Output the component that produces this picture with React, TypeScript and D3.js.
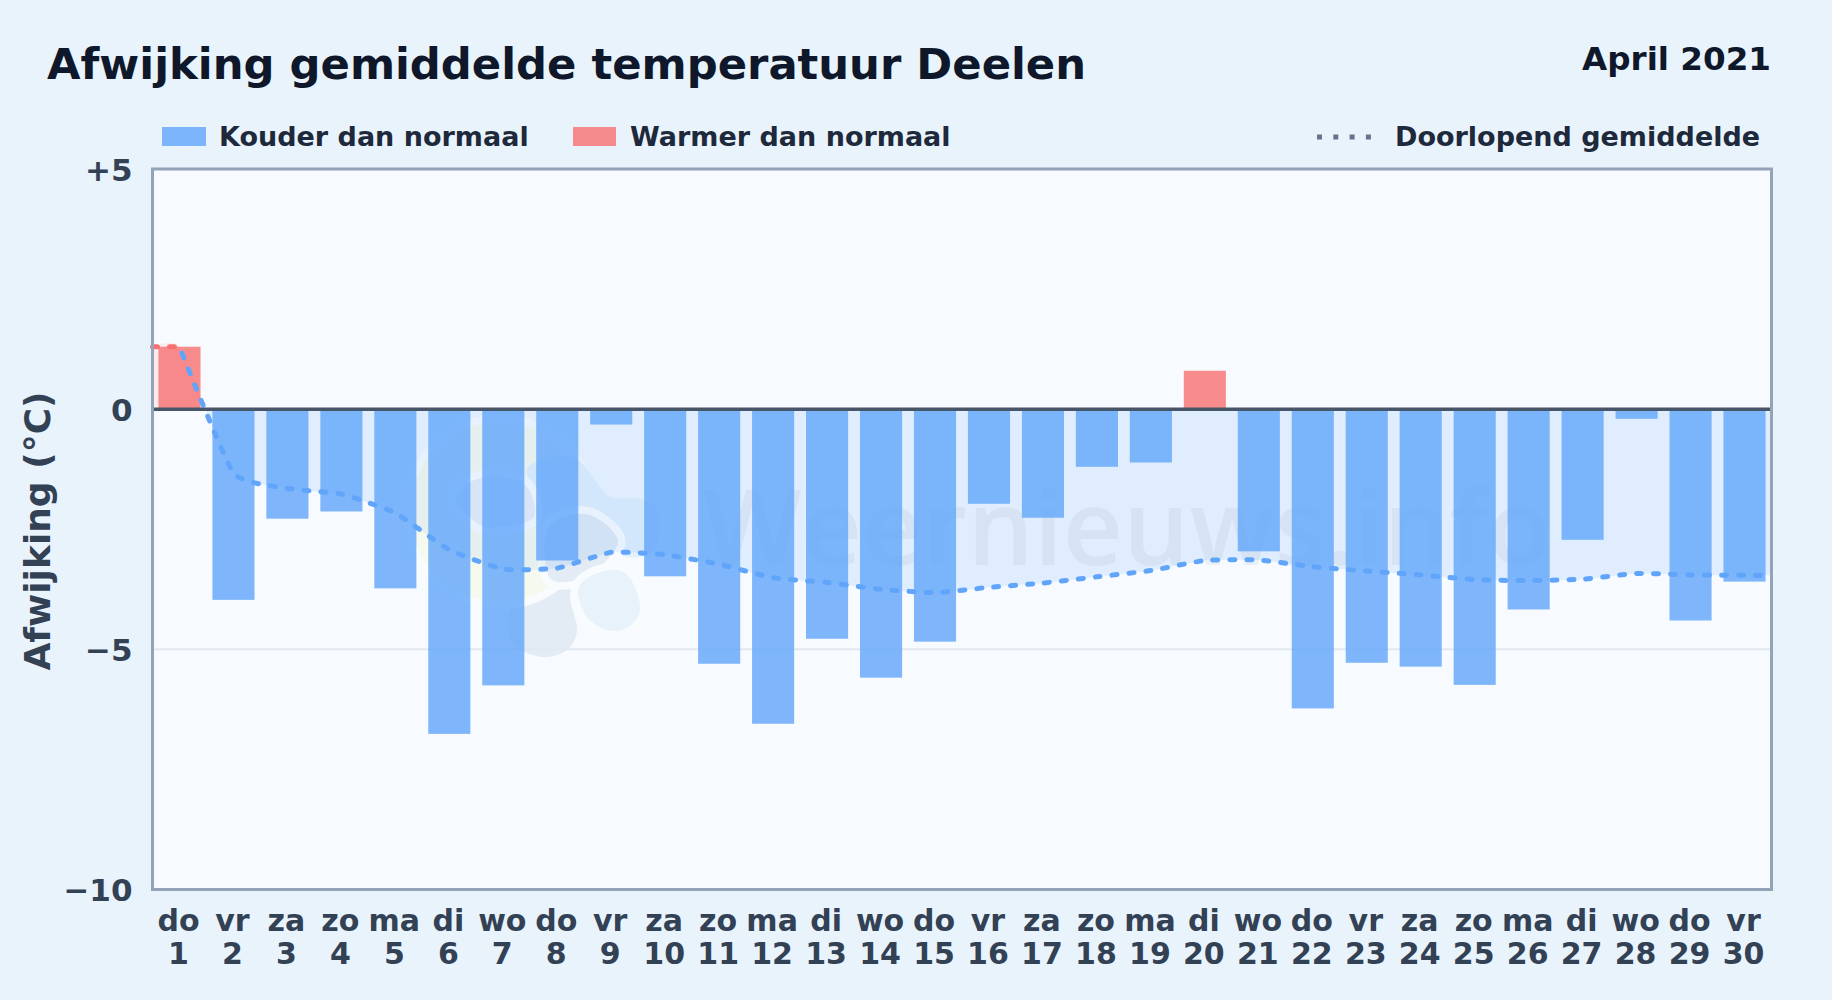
import { useRef, useEffect } from "react";
import * as d3 from "d3";

const weekdays = ["do", "vr", "za", "zo", "ma", "di", "wo", "do", "vr", "za", "zo", "ma", "di", "wo", "do", "vr", "za", "zo", "ma", "di", "wo", "do", "vr", "za", "zo", "ma", "di", "wo", "do", "vr"];
const days = [1, 2, 3, 4, 5, 6, 7, 8, 9, 10, 11, 12, 13, 14, 15, 16, 17, 18, 19, 20, 21, 22, 23, 24, 25, 26, 27, 28, 29, 30];
const deviation = [1.3, -3.97, -2.28, -2.13, -3.73, -6.76, -5.75, -3.15, -0.32, -3.48, -5.3, -6.55, -4.78, -5.59, -4.84, -1.97, -2.26, -1.2, -1.11, 0.8, -2.96, -6.23, -5.28, -5.36, -5.74, -4.17, -2.72, -0.2, -4.4, -3.59];
const runningMean = [1.3, -1.33, -1.65, -1.77, -2.16, -2.93, -3.33, -3.31, -2.98, -3.03, -3.23, -3.51, -3.61, -3.75, -3.82, -3.71, -3.62, -3.49, -3.36, -3.15, -3.14, -3.28, -3.37, -3.45, -3.55, -3.57, -3.54, -3.42, -3.45, -3.46];
const yTicks = [5, 0, -5, -10];
const yTickLabels = ["+5", "0", "\u22125", "\u221210"];

const W = 1832;
const H = 1000;
const plot = { left: 152.5, right: 1771.5, top: 169, bottom: 889.5 };
const font = "'DejaVu Sans', sans-serif";

// watermark logo outlines, page pixels, back to front
const logoBlobs: { pts: [number, number][]; fill: string; ring: boolean }[] = [
  { pts: [[577, 580], [570, 597], [577, 630], [567, 650], [543, 657], [517, 647], [507, 623], [520, 590], [540, 570]], fill: "#b7c9e1", ring: false },
  { pts: [[527, 473], [557, 457], [578, 460], [593, 477], [610, 497], [643, 500], [660, 517], [653, 550], [627, 557], [593, 540], [560, 540]], fill: "#b7d7fa", ring: false },
  { pts: [[590, 515], [618, 540], [600, 567], [577, 580], [550, 578], [545, 540], [557, 520]], fill: "#b7c9e1", ring: true },
  { pts: [[470, 482], [500, 477], [527, 487], [535, 513], [523, 523], [487, 527], [470, 517], [455, 500]], fill: "#c6d3ea", ring: true },
  { pts: [[578, 590], [593, 575], [618, 570], [633, 583], [640, 610], [627, 628], [607, 630], [587, 617]], fill: "#c5e0f2", ring: true },
];

export default function App() {
  const svgRef = useRef<SVGSVGElement>(null);

  useEffect(() => {
    if (!svgRef.current) return;
    document.body.style.margin = "0";

    const svg = d3.select(svgRef.current);
    svg.selectAll("*").remove();

    const x = d3.scaleBand<number>().domain(d3.range(30)).range([plot.left, plot.right]).paddingInner(0.22).paddingOuter(0.11);
    const y = d3.scaleLinear().domain([-10, 5]).range([plot.bottom, plot.top]);
    const cx = (i: number) => x(i)! + x.bandwidth() / 2;

    const defs = svg.append("defs");
    const meanStroke = defs.append("linearGradient").attr("id", "meanStroke").attr("gradientUnits", "userSpaceOnUse").attr("x1", plot.left).attr("x2", plot.right).attr("y1", 0).attr("y2", 0);
    const split = (cx(0) - plot.left) / (plot.right - plot.left);
    meanStroke.append("stop").attr("offset", split).attr("stop-color", "#f87171");
    meanStroke.append("stop").attr("offset", split).attr("stop-color", "#60a5fa");
    defs.append("clipPath").attr("id", "below").append("rect").attr("x", plot.left).attr("y", y(0)).attr("width", plot.right - plot.left).attr("height", plot.bottom - y(0));
    defs.append("clipPath").attr("id", "above").append("rect").attr("x", plot.left).attr("y", plot.top).attr("width", plot.right - plot.left).attr("height", y(0) - plot.top);

    svg.append("rect").attr("width", W).attr("height", H).attr("fill", "#e8f3fc");
    svg.append("rect").attr("x", plot.left).attr("y", plot.top).attr("width", plot.right - plot.left).attr("height", plot.bottom - plot.top).attr("fill", "#f7fbff");

    // Area between zero and the running mean
    const pts: [number, number][] = [
      [plot.left, runningMean[0]],
      ...runningMean.map((v, i) => [cx(i), v] as [number, number]),
      [plot.right, runningMean[29]],
    ];
    const curve = d3.curveCardinal.tension(0.55);
    const area = d3.area<[number, number]>().x((d) => d[0]).y0(y(0)).y1((d) => y(d[1])).curve(curve);
    svg.append("path").attr("d", area(pts)).attr("fill", "#dbeafe").attr("opacity", 0.85).attr("clip-path", "url(#below)");
    svg.append("path").attr("d", area(pts)).attr("fill", "#fee2e2").attr("opacity", 0.6).attr("clip-path", "url(#above)");

    // Watermark
    const wm = svg.append("g").attr("opacity", 0.3);
    const blob = d3.line().curve(d3.curveCardinalClosed.tension(0));
    const ringed = (sel: d3.Selection<any, unknown, null, undefined>, ring: boolean) =>
      sel.attr("stroke", ring ? "#ffffff" : "none").attr("stroke-width", 15).attr("paint-order", "stroke");
    logoBlobs.slice(0, 1).forEach((b) => ringed(wm.append("path").attr("d", blob(b.pts)).attr("fill", b.fill), b.ring));
    ringed(wm.append("circle").attr("cx", 500).attr("cy", 512).attr("r", 90).attr("fill", "#f3f5c8"), true);
    logoBlobs.slice(1).forEach((b) => ringed(wm.append("path").attr("d", blob(b.pts)).attr("fill", b.fill), b.ring));
    svg.append("text").attr("x", 703).attr("y", 565).attr("font-family", "'Open Sans', sans-serif").attr("font-size", 104.5).attr("font-weight", 600).attr("fill", "#64748b").attr("opacity", 0.075).text("Weernieuws.info");

    // -5 grid line
    svg.append("line").attr("x1", plot.left).attr("x2", plot.right).attr("y1", y(-5)).attr("y2", y(-5)).attr("stroke", "#e2e8f0").attr("stroke-width", 2);

    // Bars
    svg.append("g").selectAll("rect").data(deviation).join("rect")
      .attr("x", (_, i) => x(i)!)
      .attr("width", x.bandwidth())
      .attr("y", (d) => y(Math.max(d, 0)))
      .attr("height", (d) => Math.abs(y(d) - y(0)))
      .attr("fill", (d) => (d < 0 ? "#60a5fa" : "#f87171"))
      .attr("opacity", 0.8);

    // Running mean, flat lead-in up to the first day then the spline
    const line = d3.line<[number, number]>().x((d) => d[0]).y((d) => y(d[1])).curve(curve);
    const meanPath = `M${plot.left},${y(runningMean[0])}L` + line(pts.slice(1))!.slice(1);
    svg.append("path").attr("d", meanPath).attr("fill", "none").attr("stroke", "url(#meanStroke)").attr("stroke-width", 5).attr("stroke-linecap", "round").attr("stroke-dasharray", "5 12");

    // Zero line + frame
    svg.append("line").attr("x1", plot.left).attr("x2", plot.right).attr("y1", y(0)).attr("y2", y(0)).attr("stroke", "#475569").attr("stroke-width", 3.5);
    svg.append("rect").attr("x", plot.left).attr("y", plot.top).attr("width", plot.right - plot.left).attr("height", plot.bottom - plot.top).attr("fill", "none").attr("stroke", "#94a3b8").attr("stroke-width", 3);

    // Y axis
    const yAxis = svg.append("g").attr("transform", `translate(${plot.left},0)`)
      .call(d3.axisLeft(y).tickValues(yTicks).tickSize(0).tickPadding(20).tickFormat((_, i) => yTickLabels[i]));
    yAxis.select(".domain").remove();
    yAxis.selectAll(".tick text").attr("dy", "0.37em").attr("font-family", font).attr("font-size", 31).attr("font-weight", 700).attr("fill", "#334155");

    // X axis, weekday over day number
    const xAxis = svg.append("g").attr("transform", `translate(0,${plot.bottom})`)
      .call(d3.axisBottom(x).tickSize(0).tickPadding(0).tickFormat((i) => weekdays[i as number]));
    xAxis.select(".domain").remove();
    xAxis.selectAll<SVGTextElement, number>(".tick text").attr("y", 41).attr("dy", 0);
    xAxis.selectAll<SVGGElement, number>(".tick").append("text").attr("y", 74).attr("fill", "currentColor").text((i) => days[i]);
    xAxis.selectAll(".tick text").attr("x", -1).attr("font-family", font).attr("font-size", 30).attr("font-weight", 700).attr("fill", "#334155").attr("text-anchor", "middle");

    // Titles
    const label = (tx: number, ty: number, text: string, size: number, fill: string, anchor = "start") =>
      svg.append("text").attr("x", tx).attr("y", ty).attr("font-family", font).attr("font-size", size).attr("font-weight", 700).attr("fill", fill).attr("text-anchor", anchor).text(text);
    label(47, 79, "Afwijking gemiddelde temperatuur Deelen", 43.3, "#0f172a");
    label(1771, 70, "April 2021", 32.6, "#0f172a", "end");
    label(0, 0, "Afwijking (\u00b0C)", 36, "#334155", "middle").attr("transform", `translate(50,531) rotate(-90)`);

    // Legend
    const legendSwatch = (lx: number, lw: number, fill: string) =>
      svg.append("rect").attr("x", lx).attr("y", 127).attr("width", lw).attr("height", 19).attr("fill", fill).attr("opacity", 0.8);
    legendSwatch(162, 44, "#60a5fa");
    label(219, 146, "Kouder dan normaal", 27, "#1e293b");
    legendSwatch(573, 43, "#f87171");
    label(630, 146, "Warmer dan normaal", 27, "#1e293b");
    svg.append("line").attr("x1", 1317).attr("x2", 1373).attr("y1", 137).attr("y2", 137).attr("stroke", "#64748b").attr("stroke-width", 5).attr("stroke-dasharray", "5 11.3");
    label(1395, 146, "Doorlopend gemiddelde", 27, "#1e293b");
  }, []);

  return <svg ref={svgRef} width={W} height={H} viewBox={`0 0 ${W} ${H}`} style={{ position: "absolute", left: 0, top: 0, display: "block" }} />;
}
